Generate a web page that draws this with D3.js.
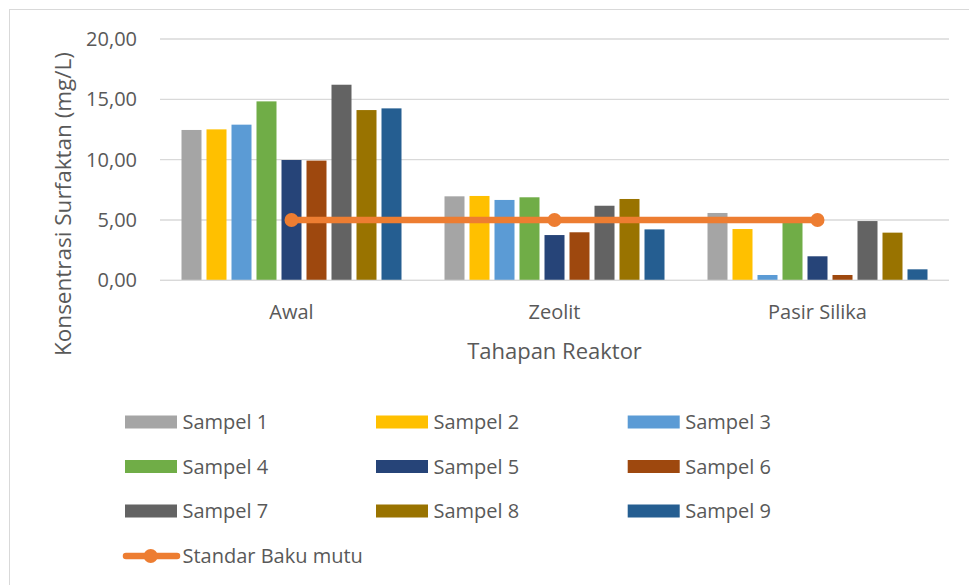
<!DOCTYPE html>
<html>
<head>
<meta charset="utf-8">
<script src="https://cdn.jsdelivr.net/npm/d3@7"></script>
<style>
  body { margin: 0; background: #fff; }
  text { font-family: "Open Sans", sans-serif; fill: #595959; }
</style>
</head>
<body>
<svg id="chart" width="969" height="585"></svg>
<script>
const categories = ["Awal", "Zeolit", "Pasir Silika"];
const seriesNames = ["Sampel 1", "Sampel 2", "Sampel 3", "Sampel 4", "Sampel 5",
    "Sampel 6", "Sampel 7", "Sampel 8", "Sampel 9"];
// one row per sample, one value per category
const sampleValues = [
    [12.46, 6.96, 5.58],
    [12.51, 6.99, 4.25],
    [12.90, 6.66, 0.44],
    [14.83, 6.88, 4.85],
    [9.97, 3.75, 1.99],
    [9.92, 3.98, 0.44],
    [16.21, 6.18, 4.91],
    [14.11, 6.74, 3.95],
    [14.25, 4.22, 0.91]
];
const standarValues = [5, 5, 5];
const yTicks = [0, 5, 10, 15, 20];
const colors = ["#A5A5A5", "#FFC000", "#5B9BD5", "#70AD47", "#264478",
    "#9E480E", "#636363", "#997300", "#255E91"];
const lineColor = "#ED7D31";

const svg = d3.select("svg");

// chart frame (only top and left edges show in the reference)
svg.append("rect")
    .attr("x", 9.5).attr("y", 9.5)
    .attr("width", 1000).attr("height", 1000)
    .attr("fill", "none")
    .attr("stroke", "#D9D9D9");

const plot = { left: 160, right: 949, top: 39, bottom: 280.3 };

const x = d3.scaleBand().domain(categories).range([plot.left, plot.right]);
const xs = d3.scaleBand().domain(seriesNames)
    .range([21.5, x.bandwidth() - 21.5]).paddingInner(0.2);
const y = d3.scaleLinear().domain([0, 20]).range([plot.bottom, plot.top]);

// gridlines
svg.append("g").selectAll("line")
    .data(yTicks)
    .enter()
    .append("line")
    .attr("x1", plot.left).attr("x2", plot.right)
    .attr("y1", d => y(d)).attr("y2", d => y(d))
    .attr("stroke", "#D9D9D9")
    .attr("stroke-width", 1.3);

// y tick labels
svg.append("g").selectAll("text")
    .data(yTicks)
    .enter()
    .append("text")
    .attr("x", 137)
    .attr("y", d => y(d) + 7)
    .attr("text-anchor", "end")
    .style("font-size", "20px")
    .text(d => d3.format(".2f")(d).replace(".", ","));

// bars
const groups = svg.append("g").selectAll("g")
    .data(seriesNames)
    .enter()
    .append("g")
    .attr("fill", (d, i) => colors[i]);

groups.selectAll("rect")
    .data((s, i) => categories.map((c, j) => ({ cat: c, s: s, v: sampleValues[i][j] })))
    .enter()
    .append("rect")
    .attr("x", d => x(d.cat) + xs(d.s))
    .attr("width", xs.bandwidth())
    .attr("y", d => y(d.v))
    .attr("height", d => y(0) - y(d.v));

// baseline
svg.append("line")
    .attr("x1", plot.left).attr("x2", plot.right)
    .attr("y1", y(0)).attr("y2", y(0))
    .attr("stroke", "#D9D9D9")
    .attr("stroke-width", 1.3);

// standar baku mutu line
const line = d3.line()
    .x((d, i) => x(categories[i]) + x.bandwidth() / 2)
    .y(d => y(d));

svg.append("path")
    .datum(standarValues)
    .attr("d", line)
    .attr("fill", "none")
    .attr("stroke", lineColor)
    .attr("stroke-width", 6.5)
    .attr("stroke-linecap", "round");

svg.append("g").selectAll("circle")
    .data(standarValues)
    .enter()
    .append("circle")
    .attr("cx", (d, i) => x(categories[i]) + x.bandwidth() / 2)
    .attr("cy", d => y(d))
    .attr("r", 7)
    .attr("fill", lineColor);

// category labels
svg.append("g").selectAll("text")
    .data(categories)
    .enter()
    .append("text")
    .attr("x", d => x(d) + x.bandwidth() / 2)
    .attr("y", 319)
    .attr("text-anchor", "middle")
    .style("font-size", "20px")
    .text(d => d);

// axis titles
svg.append("text")
    .attr("x", (plot.left + plot.right) / 2)
    .attr("y", 359)
    .attr("text-anchor", "middle")
    .style("font-size", "22px")
    .text("Tahapan Reaktor");

svg.append("text")
    .attr("transform", "translate(71,204) rotate(-90)")
    .attr("text-anchor", "middle")
    .style("font-size", "22.5px")
    .text("Konsentrasi Surfaktan (mg/L)");

// legend
const legend = svg.append("g");
const legendCols = [125, 376, 627.7];
const legendRows = [422, 466.5, 511];

seriesNames.forEach(function (name, i) {
    const lx = legendCols[i % 3];
    const ly = legendRows[Math.floor(i / 3)];
    legend.append("rect")
        .attr("x", lx).attr("y", ly - 6.5)
        .attr("width", 52).attr("height", 13)
        .attr("fill", colors[i]);
    legend.append("text")
        .attr("x", lx + 57.5).attr("y", ly + 7)
        .style("font-size", "20px")
        .text(name);
});

legend.append("line")
    .attr("x1", 126).attr("x2", 177)
    .attr("y1", 556).attr("y2", 556)
    .attr("stroke", lineColor)
    .attr("stroke-width", 6.5)
    .attr("stroke-linecap", "round");
legend.append("circle")
    .attr("cx", 150.7).attr("cy", 556).attr("r", 7)
    .attr("fill", lineColor);
legend.append("text")
    .attr("x", 182.5).attr("y", 563)
    .style("font-size", "20px")
    .text("Standar Baku mutu");
</script>
</body>
</html>
